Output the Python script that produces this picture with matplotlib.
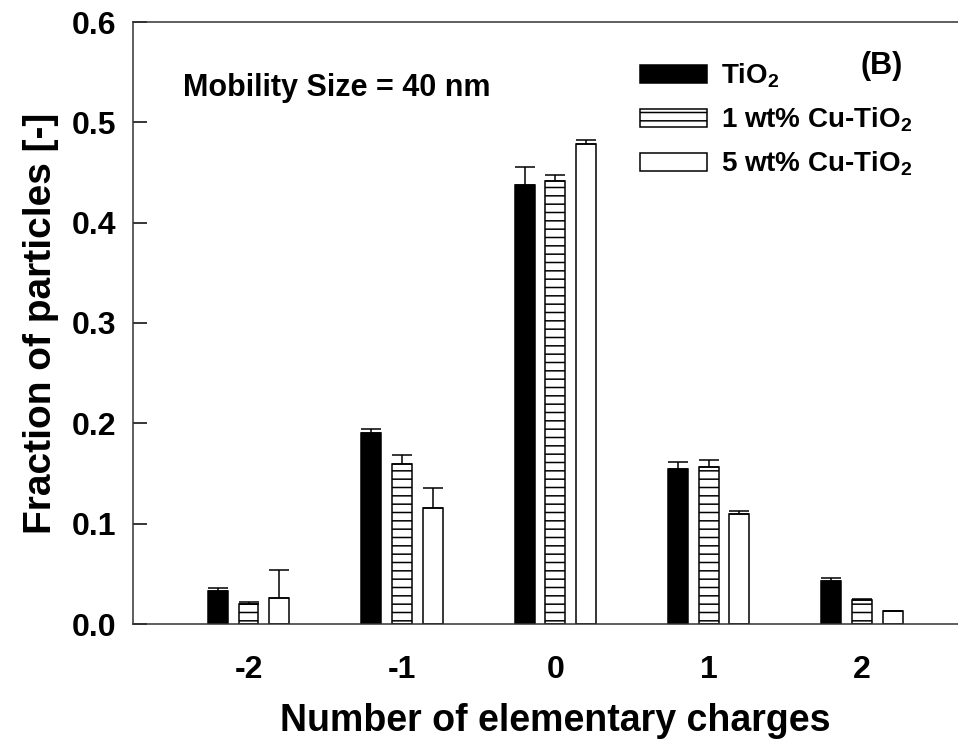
import matplotlib
matplotlib.use("Agg")
import matplotlib.pyplot as plt
import numpy as np

charges = [-2, -1, 0, 1, 2]
series_labels = ["TiO$_2$", "1 wt% Cu-TiO$_2$", "5 wt% Cu-TiO$_2$"]
tio2 = [0.033, 0.190, 0.438, 0.154, 0.043]
tio2_err = [0.003, 0.004, 0.017, 0.007, 0.003]
cu1 = [0.020, 0.159, 0.4415, 0.156, 0.0242]
cu1_err = [0.002, 0.009, 0.0065, 0.007, 0.001]
cu5 = [0.0256, 0.116, 0.478, 0.1096, 0.013]
cu5_err = [0.028, 0.020, 0.004, 0.003, 0.0]
yticks = [0.0, 0.1, 0.2, 0.3, 0.4, 0.5, 0.6]

plt.rcParams['font.family'] = ['Liberation Sans', 'DejaVu Sans']
plt.rcParams['font.weight'] = 'bold'
plt.rcParams['mathtext.fontset'] = 'custom'
plt.rcParams['mathtext.rm'] = 'Liberation Sans:bold'
plt.rcParams['mathtext.bf'] = 'Liberation Sans:bold'
plt.rcParams['mathtext.default'] = 'bf'
plt.rcParams['hatch.linewidth'] = 1.1
plt.rcParams['hatch.color'] = 'black'

fig = plt.figure(figsize=(9.58, 7.42), dpi=100)
ax = fig.add_axes([133/958, 118/742, 1.02 - 133/958, 602/742])

x = np.array(charges, dtype=float)
w = 0.13
off = 0.2
styles = [dict(color='black', hatch=None), dict(color='white', hatch='--'), dict(color='white', hatch=None)]
data = [(tio2, tio2_err), (cu1, cu1_err), (cu5, cu5_err)]
for i, ((vals, errs), st, lab) in enumerate(zip(data, styles, series_labels)):
    xs = x + (i - 1) * off
    ax.bar(xs, vals, width=w, color=st['color'], edgecolor='black', linewidth=1.1,
           hatch=st['hatch'], label=lab, zorder=2)
    ax.errorbar(xs, vals, yerr=[np.zeros(len(vals)), errs], fmt='none', ecolor='black',
                elinewidth=1.1, capsize=7, capthick=1.1, zorder=3)

ax.set_xlim(-2.753, 2.75)
ax.set_ylim(0, 0.6)
ax.set_yticks(yticks)
ax.set_yticklabels([f"{v:.1f}" for v in yticks])
ax.set_xticks(charges)
ax.set_xticklabels([str(c) for c in charges])
ax.tick_params(axis='y', direction='in', length=10, width=1.1, labelsize=23, pad=12)
ax.tick_params(axis='x', length=0, labelsize=23, pad=22)
for s in ax.spines.values():
    s.set_linewidth(1.1)
    s.set_color('#333333')

ax.set_xlabel("Number of elementary charges", fontsize=27, fontweight='bold', labelpad=13)
ax.set_ylabel("Fraction of particles [-]", fontsize=28, fontweight='bold', labelpad=9)

fig.text(183/958, 1 - 88/742, "Mobility Size = 40 nm", fontsize=22, fontweight='bold',
         va='center', ha='left')
fig.text(882/958, 1 - 66/742, "(B)", fontsize=22, fontweight='bold', ha='center', va='center')

leg = ax.legend(loc='upper left', bbox_to_anchor=(640/958, 1 - 62/742), bbox_transform=fig.transFigure,
                frameon=False, fontsize=20, handlelength=2.4, handleheight=0.6,
                handletextpad=0.5, labelspacing=0.55, borderaxespad=0, borderpad=0)

fig.savefig("out.png", dpi=100)
